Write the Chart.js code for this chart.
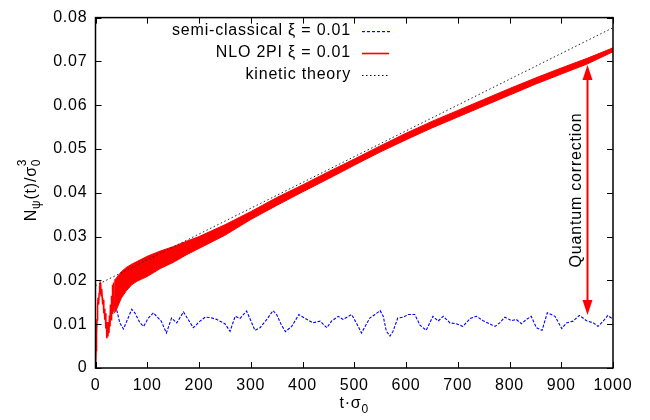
<!DOCTYPE html>
<html>
  <head>
    <style>
      body { margin: 0; background: #fff; }
    </style>
  </head>
  <body>
    <canvas id="chart" width="650" height="420"></canvas>

    <script src="https://cdn.jsdelivr.net/npm/chart.js"></script>
    <script>
      // semi-classical xi = 0.01 (blue dashed)
      const blueT = [28, 34, 40, 47, 54, 63, 70, 76, 86, 93, 102, 112, 118, 127, 137, 147, 157, 170, 179, 189,
        202, 212, 222, 234, 250, 260, 270, 279, 292, 298, 308, 318, 331, 343, 350, 359, 367, 379, 393, 404,
        420, 434, 447, 456, 469, 478, 495, 504, 514, 530, 540, 550, 556, 562, 569, 575, 584, 595, 604, 617,
        627, 639, 652, 662, 672, 685, 697, 710, 724, 736, 749, 765, 772, 781, 791, 804, 813, 823, 833, 842,
        852, 863, 873, 888, 901, 910, 923, 935, 949, 962, 971, 981, 990, 997, 1000];
      const blueN = [0.0110, 0.0145, 0.0137, 0.0103, 0.0089, 0.0114, 0.0134, 0.0126, 0.0103, 0.0095, 0.0114, 0.0126, 0.0118, 0.0107, 0.0080, 0.0114, 0.0103, 0.0128, 0.0111, 0.0092,
        0.0107, 0.0116, 0.0115, 0.0111, 0.0101, 0.0084, 0.0118, 0.0113, 0.0130, 0.0114, 0.0086, 0.0092, 0.0111, 0.0131, 0.0122, 0.0099, 0.0083, 0.0095, 0.0122, 0.0114,
        0.0103, 0.0107, 0.0092, 0.0107, 0.0118, 0.0111, 0.0122, 0.0103, 0.0080, 0.0114, 0.0122, 0.0131, 0.0118, 0.0084, 0.0073, 0.0084, 0.0114, 0.0116, 0.0122, 0.0122,
        0.0098, 0.0086, 0.0118, 0.0107, 0.0118, 0.0103, 0.0101, 0.0095, 0.0113, 0.0118, 0.0108, 0.0099, 0.0095, 0.0103, 0.0116, 0.0108, 0.0111, 0.0101, 0.0111, 0.0118,
        0.0092, 0.0086, 0.0126, 0.0118, 0.0090, 0.0103, 0.0107, 0.0120, 0.0108, 0.0103, 0.0095, 0.0107, 0.0120, 0.0114, 0.0116];

      // NLO 2PI xi = 0.01 (red), early single line then fast-oscillation band
      const redEarlyT = [0, 1, 2, 3, 4, 5, 6, 7, 8, 9, 10, 11, 12, 13, 14, 15, 16, 17, 18, 19, 20, 21, 22, 23, 24, 25,
        26, 27, 28, 29, 30, 31, 32, 33, 34, 35, 36];
      const redEarlyN = [0, 0.004, 0.008, 0.011, 0.014, 0.016, 0.0145, 0.017, 0.0185, 0.0194, 0.019, 0.0165, 0.018,
        0.016, 0.0145, 0.0155, 0.0125, 0.0135, 0.011, 0.0125, 0.009, 0.0105, 0.0068, 0.0095, 0.0072, 0.0105,
        0.008, 0.012, 0.0095, 0.0145, 0.011, 0.0165, 0.0125, 0.019, 0.013, 0.0195, 0.014];
      const bandT = [36, 40, 50, 60, 70, 80, 100, 125, 150, 175, 200, 250, 300, 350, 400, 450, 500, 550, 600, 650,
        700, 750, 800, 850, 900, 950, 1000];
      const bandHigh = [0.0200, 0.0205, 0.0220, 0.0230, 0.0237, 0.0243, 0.0255, 0.0267, 0.0277, 0.0289, 0.0300,
        0.0327, 0.0357, 0.0389, 0.0418, 0.0448, 0.0477, 0.0507, 0.0536, 0.0563, 0.0588, 0.0613, 0.0638, 0.0662,
        0.0685, 0.0707, 0.0731];
      const bandLow = [0.0125, 0.0132, 0.0160, 0.0177, 0.0190, 0.0198, 0.0209, 0.0227, 0.0241, 0.0258, 0.0273,
        0.0303, 0.0339, 0.0371, 0.0402, 0.0432, 0.0463, 0.0493, 0.0521, 0.0548, 0.0573, 0.0598, 0.0623, 0.0648,
        0.0671, 0.0694, 0.0722];

      // kinetic theory (black dotted)
      const kinT = [0, 1000];
      const kinN = [0.0188, 0.0777];

      const legendLabels = ["semi-classical \u03be = 0.01", "NLO 2PI \u03be = 0.01", "kinetic theory"];

      // quantum correction arrow: at t, from blue level up to red level
      const arrowT = 949;
      const arrowFrom = 0.0121;
      const arrowTo = 0.0692;

      const FONT = '"Liberation Sans", Arial, sans-serif';
      const SPACING = "0.8px";

      function pts(xs, ys) {
        return xs.map(function (x, i) { return { x: x, y: ys[i] }; });
      }

      function drawArrowHead(ctx, x, y, dir) {
        // dir = -1 points up, +1 points down
        ctx.beginPath();
        ctx.moveTo(x, y);
        ctx.lineTo(x - 5, y - dir * 15);
        ctx.lineTo(x + 5, y - dir * 15);
        ctx.closePath();
        ctx.fill();
      }

      const decorations = {
        id: "decorations",
        beforeDraw: function (chart) {
          chart.ctx.letterSpacing = SPACING;
        },
        afterDraw: function (chart) {
          const ctx = chart.ctx;
          const a = chart.chartArea;
          const xs = chart.scales.x;
          const ys = chart.scales.y;
          ctx.save();
          ctx.letterSpacing = SPACING;

          // inward ticks on all four sides
          ctx.strokeStyle = "#000";
          ctx.lineWidth = 1;
          ctx.beginPath();
          xs.ticks.forEach(function (t) {
            const px = Math.round(xs.getPixelForValue(t.value)) + 0.5;
            ctx.moveTo(px, a.bottom); ctx.lineTo(px, a.bottom - 6);
            ctx.moveTo(px, a.top); ctx.lineTo(px, a.top + 6);
          });
          ys.ticks.forEach(function (t) {
            const py = Math.round(ys.getPixelForValue(t.value)) + 0.5;
            ctx.moveTo(a.left, py); ctx.lineTo(a.left + 6, py);
            ctx.moveTo(a.right, py); ctx.lineTo(a.right - 6, py);
          });
          ctx.stroke();

          // frame
          ctx.lineWidth = 1.5;
          ctx.strokeRect(a.left, a.top, a.right - a.left, a.bottom - a.top);

          // legend
          ctx.font = "16px " + FONT;
          ctx.textAlign = "right";
          ctx.textBaseline = "middle";
          const rows = [31, 53, 75];
          for (let i = 0; i < legendLabels.length; i++) {
            ctx.fillStyle = "#000";
            ctx.fillText(legendLabels[i], 351, rows[i]);
          }
          // samples
          ctx.fillStyle = "#0000ff";
          for (let sx = 362; sx < 389; sx += 5) ctx.fillRect(sx, rows[0], 3, 1.2);
          ctx.fillStyle = "#ff0000";
          ctx.fillRect(362, rows[1] - 0.3, 27, 1.6);
          ctx.fillStyle = "#000";
          for (let sx = 362; sx < 389; sx += 4) ctx.fillRect(sx, rows[2], 1.5, 1);

          // x title
          ctx.fillStyle = "#000";
          ctx.textAlign = "left";
          ctx.textBaseline = "alphabetic";
          ctx.font = "16px " + FONT;
          const xMain = "t\u00b7\u03c3";
          const wMain = ctx.measureText(xMain).width;
          ctx.font = "12px " + FONT;
          const wSub = ctx.measureText("0").width;
          const x0 = (a.left + a.right) / 2 - (wMain + wSub) / 2;
          ctx.font = "16px " + FONT;
          ctx.fillText(xMain, x0, 408);
          ctx.font = "12px " + FONT;
          ctx.fillText("0", x0 + wMain, 413);

          // y title, rotated
          ctx.save();
          ctx.translate(36, 190);
          ctx.rotate(-Math.PI / 2);
          const parts = [
            { s: "N", f: 16, dy: 0 },
            { s: "\u03c8", f: 12, dy: 4 },
            { s: "(t)/\u03c3", f: 16, dy: 0 },
            { s: "0", f: 12, dy: 4 }
          ];
          let total = 0;
          parts.forEach(function (p) { ctx.font = p.f + "px " + FONT; p.w = ctx.measureText(p.s).width; total += p.w; });
          let cx = -total / 2;
          parts.forEach(function (p) {
            ctx.font = p.f + "px " + FONT;
            ctx.fillText(p.s, cx, p.dy);
            if (p.s === "0") ctx.fillText("3", cx, -10);
            cx += p.w;
          });
          ctx.restore();

          // quantum correction arrow
          const ax = Math.round(xs.getPixelForValue(arrowT)) + 0.5;
          const yTop = ys.getPixelForValue(arrowTo);
          const yBot = ys.getPixelForValue(arrowFrom);
          ctx.strokeStyle = "#ff0000";
          ctx.fillStyle = "#ff0000";
          ctx.lineWidth = 2;
          ctx.beginPath();
          ctx.moveTo(ax, yTop + 12);
          ctx.lineTo(ax, yBot - 12);
          ctx.stroke();
          drawArrowHead(ctx, ax, yTop, -1);
          drawArrowHead(ctx, ax, yBot, 1);

          ctx.save();
          ctx.translate(ax - 7, (yTop + yBot) / 2);
          ctx.rotate(-Math.PI / 2);
          ctx.fillStyle = "#000";
          ctx.font = "16px " + FONT;
          ctx.textAlign = "center";
          ctx.textBaseline = "alphabetic";
          ctx.fillText("Quantum correction", 0, 0);
          ctx.restore();

          ctx.restore();
        }
      };

      const red = "#ff0000";

      new Chart(document.getElementById("chart"), {
        type: "line",
        data: {
          datasets: [
            {
              label: "kinetic theory",
              data: pts(kinT, kinN),
              borderColor: "#222",
              borderWidth: 1,
              borderDash: [1.5, 2.5],
              order: 0
            },
            {
              label: "NLO early",
              data: pts(redEarlyT, redEarlyN),
              borderColor: red,
              borderWidth: 1.6,
              order: 1
            },
            {
              label: "NLO low",
              data: pts(bandT, bandLow),
              borderColor: red,
              borderWidth: 1,
              order: 2
            },
            {
              label: "NLO high",
              data: pts(bandT, bandHigh),
              borderColor: red,
              borderWidth: 1,
              backgroundColor: red,
              fill: "-1",
              order: 2
            },
            {
              label: "semi-classical",
              data: pts(blueT, blueN),
              borderColor: "#0000ff",
              borderWidth: 1.1,
              borderDash: [3, 1.5],
              order: 5
            }
          ]
        },
        options: {
          responsive: false,
          animation: false,
          devicePixelRatio: 1,
          layout: { padding: { top: 14, right: 37, left: 0, bottom: 0 } },
          elements: { point: { radius: 0 }, line: { tension: 0 } },
          plugins: { legend: { display: false }, tooltip: { enabled: false } },
          scales: {
            x: {
              type: "linear",
              min: 0,
              max: 1000,
              grid: { display: false, drawTicks: false },
              border: { display: false },
              ticks: {
                stepSize: 100,
                color: "#000",
                padding: 8,
                maxRotation: 0,
                font: { size: 16, family: FONT },
                callback: function (v) { return String(v); }
              },
              afterFit: function (s) { s.height = 52; }
            },
            y: {
              min: 0,
              max: 0.08,
              grid: { display: false, drawTicks: false },
              border: { display: false },
              ticks: {
                stepSize: 0.01,
                color: "#000",
                padding: 8,
                font: { size: 16, family: FONT },
                callback: function (v) { return v === 0 ? "0" : v.toFixed(2); }
              },
              afterFit: function (s) { s.width = 95.5; }
            }
          }
        },
        plugins: [decorations]
      });
    </script>
  </body>
</html>
